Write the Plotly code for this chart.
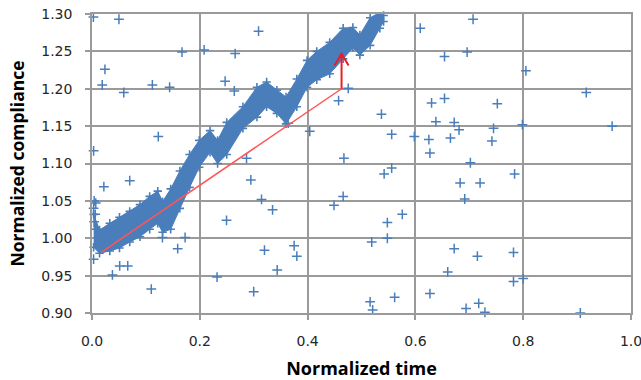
import plotly.graph_objects as go

# Dense compliance band: upper and lower envelope of the measured cloud
band_x = [0.003, 0.014, 0.033, 0.051, 0.070, 0.089, 0.107, 0.122, 0.131, 0.146,
          0.163, 0.181, 0.199, 0.219, 0.233, 0.250, 0.280, 0.306, 0.324, 0.343,
          0.360, 0.380, 0.399, 0.417, 0.441, 0.466, 0.484, 0.497, 0.516, 0.534, 0.541]
band_upper = [1.032, 1.011, 1.020, 1.028, 1.036, 1.045, 1.056, 1.063, 1.049, 1.066,
              1.090, 1.112, 1.131, 1.144, 1.131, 1.155, 1.176, 1.202, 1.209, 1.198,
              1.189, 1.213, 1.238, 1.250, 1.262, 1.281, 1.282, 1.272, 1.295, 1.302, 1.298]
band_lower = [0.988, 0.980, 0.983, 0.987, 0.995, 1.002, 1.012, 1.020, 1.008, 1.012,
              1.040, 1.068, 1.095, 1.115, 1.100, 1.112, 1.147, 1.162, 1.176, 1.167,
              1.153, 1.176, 1.202, 1.212, 1.220, 1.240, 1.255, 1.245, 1.258, 1.281, 1.290]

# Scattered individual samples
pts_x = [0.0026, 0.050, 0.024, 0.019, 0.059, 0.167, 0.208, 0.112, 0.144, 0.123, 0.003, 0.022, 0.070,
         0.004, 0.007, 0.003, 0.006, 0.004, 0.008, 0.003,
         0.309, 0.2656, 0.247, 0.264, 0.4754, 0.4575, 0.537, 0.556, 0.598, 0.404, 0.364, 0.2867,
         0.4674, 0.2947, 0.556, 0.542, 0.466, 0.3145,
         0.609, 0.707, 0.654, 0.696, 0.805, 0.917, 0.630, 0.654, 0.752, 0.638, 0.672, 0.681,
         0.745, 0.7985, 0.965, 0.625, 0.665, 0.742, 0.627, 0.702, 0.784, 0.683, 0.720, 0.6915,
         0.0379, 0.0514, 0.0663, 0.110, 0.1307, 0.159, 0.1727, 0.232,
         0.335, 0.2496, 0.449, 0.5757, 0.548, 0.548, 0.519, 0.320, 0.375, 0.380, 0.3436, 0.300,
         0.516, 0.5207, 0.5615,
         0.672, 0.715, 0.782, 0.660, 0.800, 0.782, 0.627, 0.7175, 0.694, 0.729, 0.906]
pts_y = [1.296, 1.293, 1.226, 1.205, 1.195, 1.249, 1.252, 1.205, 1.202, 1.136, 1.117, 1.069, 1.077,
         1.050, 1.047, 1.040, 1.032, 1.022, 1.012, 0.972,
         1.277, 1.247, 1.210, 1.197, 1.2006, 1.184, 1.166, 1.139, 1.136, 1.143, 1.154, 1.107,
         1.107, 1.078, 1.094, 1.086, 1.056, 1.052,
         1.281, 1.293, 1.243, 1.249, 1.224, 1.195, 1.181, 1.187, 1.180, 1.156, 1.155, 1.145,
         1.147, 1.152, 1.150, 1.132, 1.134, 1.130, 1.114, 1.101, 1.086, 1.074, 1.074, 1.0525,
         0.951, 0.963, 0.963, 0.932, 1.001, 0.986, 1.001, 0.948,
         1.038, 1.024, 1.044, 1.032, 1.021, 1.000, 0.995, 0.984, 0.990, 0.976, 0.9575, 0.9285,
         0.915, 0.904, 0.921,
         0.986, 0.976, 0.981, 0.955, 0.946, 0.942, 0.926, 0.913, 0.906, 0.901, 0.900]

# Trend line and the vertical offset arrow
trend_x = [0.017, 0.463]
trend_y = [0.981, 1.200]
arrow_x = 0.463
arrow_y = [1.200, 1.247]

x_ticks = [0.0, 0.2, 0.4, 0.6, 0.8, 1.0]
y_ticks = [0.90, 0.95, 1.00, 1.05, 1.10, 1.15, 1.20, 1.25, 1.30]

BLUE = "#4A7EBB"
GRID = "#9A9A9A"

fig = go.Figure()

# band body
fig.add_trace(go.Scatter(
    x=band_x + band_x[::-1], y=band_upper + band_lower[::-1],
    mode="lines", fill="toself", fillcolor=BLUE,
    line=dict(color=BLUE, width=1), hoverinfo="skip", showlegend=False))

# ragged band edges
fig.add_trace(go.Scatter(
    x=band_x + band_x, y=band_upper + band_lower, mode="markers",
    marker=dict(symbol="cross-thin", size=6, line=dict(color=BLUE, width=1.6)),
    cliponaxis=False, showlegend=False))

fig.add_trace(go.Scatter(
    x=pts_x, y=pts_y, mode="markers",
    marker=dict(symbol="cross-thin", size=7, line=dict(color=BLUE, width=1.5)),
    cliponaxis=False, showlegend=False))

fig.add_trace(go.Scatter(
    x=trend_x, y=trend_y, mode="lines",
    line=dict(color="#FF5555", width=1.5), showlegend=False))

# arrow shaft and open head
head_dx, head_dy = 0.013, 0.016
fig.add_trace(go.Scatter(
    x=[arrow_x, arrow_x, None, arrow_x - head_dx, arrow_x, arrow_x + head_dx],
    y=[arrow_y[0], arrow_y[1], None, arrow_y[1] - head_dy, arrow_y[1], arrow_y[1] - head_dy],
    mode="lines", line=dict(color="#EE1C25", width=2), showlegend=False))

axis_common = dict(
    showgrid=True, gridcolor=GRID, gridwidth=1.5,
    showline=True, linecolor=GRID, linewidth=1.5, mirror=True,
    ticks="outside", ticklen=5, tickcolor=GRID, tickwidth=1.5,
    zeroline=False, automargin=False, ticklabeloverflow="allow",
    tickfont=dict(family="DejaVu Sans", size=14, color="#262626"),
)

fig.update_xaxes(range=[0, 1.0], tickvals=x_ticks,
                 ticktext=[f"{v:.1f}" for v in x_ticks],
                 ticklabelstandoff=9,
                 title=dict(text="<b>Normalized time</b>", standoff=16,
                            font=dict(family="Open Sans", size=18, color="#000000")),
                 **axis_common)
fig.update_yaxes(range=[0.90, 1.30], tickvals=y_ticks,
                 ticktext=[f"{v:.2f}" for v in y_ticks],
                 ticklabelstandoff=10,
                 title=dict(text="<b>Normalized compliance</b>", standoff=12,
                            font=dict(family="Open Sans", size=17.5, color="#000000")),
                 **axis_common)

fig.update_layout(
    width=641, height=380,
    margin=dict(l=92, r=10, t=14, b=67),
    plot_bgcolor="white", paper_bgcolor="white",
)

fig.write_html("out.html")
